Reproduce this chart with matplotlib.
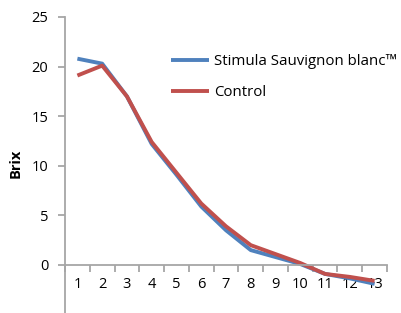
import matplotlib
matplotlib.use("Agg")
import matplotlib.pyplot as plt
import numpy as np

categories = ["1", "2", "3", "4", "5", "6", "7", "8", "9", "10", "11", "12", "13"]
stimula = [20.8, 20.3, 17.0, 12.2, 9.1, 5.9, 3.5, 1.5, 0.8, 0.1, -0.9, -1.35, -1.9]
control = [19.1, 20.1, 17.0, 12.4, 9.3, 6.2, 3.9, 2.0, 1.1, 0.2, -0.9, -1.2, -1.6]
series_names = ["Stimula Sauvignon blanc\u2122", "Control"]
yticks = [0, 5, 10, 15, 20, 25]

plt.rcParams['font.family'] = ['Open Sans', 'DejaVu Sans']

W, H = 401, 313
fig = plt.figure(figsize=(W/100, H/100), dpi=100)
ax = fig.add_axes([65/W, 0, (387-65)/W, 296/H])

x = np.arange(1, len(categories)+1)
ax.plot(x, stimula, color='#4F81BD', lw=2.8, label=series_names[0], solid_capstyle='butt', solid_joinstyle='round')
ax.plot(x, control, color='#C0504D', lw=2.8, label=series_names[1], solid_capstyle='butt', solid_joinstyle='round')

ax.set_xlim(0.5, len(categories)+0.5)
ax.set_ylim(25 - 296/9.92, 25)

gray = '#A6A6A6'
for s in ['top', 'right']:
    ax.spines[s].set_visible(False)
ax.spines['bottom'].set_position(('data', 0))
ax.spines['left'].set_color(gray)
ax.spines['bottom'].set_color(gray)
ax.spines['left'].set_linewidth(1.3)
ax.spines['bottom'].set_linewidth(1.3)

ax.set_yticks(yticks)
ax.set_yticklabels([str(v) for v in yticks])
ax.tick_params(axis='y', length=5, width=1.3, color=gray, pad=7, labelsize=10.5, direction='out')

ax.set_xticks(x)
ax.set_xticklabels(categories)
ax.set_xticks(np.arange(0.5, len(categories)+1, 1), minor=True)
ax.tick_params(axis='x', which='major', length=0, pad=9, labelsize=10.5)
ax.tick_params(axis='x', which='minor', length=5, width=1.3, color=gray, direction='out')

fig.text(16/W, 1 - 163/H, 'Brix', rotation=90, ha='center', va='center', fontsize=10.5, fontweight='bold')

leg = ax.legend(loc='upper left', bbox_to_anchor=((165-65)/(387-65), 1 - 31/296),
                frameon=False, fontsize=10.8, handlelength=2.5, handletextpad=0.35, labelspacing=1.1,
                borderaxespad=0)

fig.savefig('out.png', dpi=100)
